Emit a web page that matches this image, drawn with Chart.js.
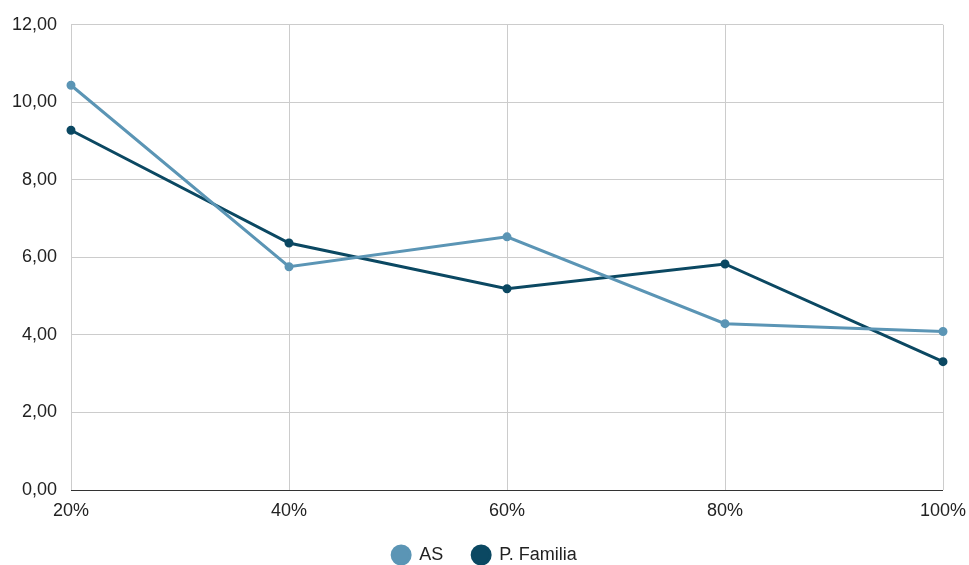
<!DOCTYPE html>
<html>
<head>
<meta charset="utf-8">
<script src="https://cdn.jsdelivr.net/npm/chart.js@4"></script>
<style>
  html, body { margin: 0; padding: 0; background: #fff; }
  #wrap { width: 969px; height: 565px; position: relative; }
</style>
</head>
<body>
<div id="wrap"><canvas id="chart"></canvas></div>
<script>
// Категории по оси X
const categories = ['20%', '40%', '60%', '80%', '100%'];

// Значения серий
const asValues      = [10.44, 5.76, 6.53, 4.29, 4.09];
const familiaValues = [9.28, 6.37, 5.19, 5.83, 3.31];

// Деления оси Y
const yTicks = [0, 2, 4, 6, 8, 10, 12];

const colorAS      = '#5b95b5';
const colorFamilia = '#0b4862';
const FONT = { family: 'Arial, "Liberation Sans", sans-serif', size: 18 };

const fmt = v => v.toFixed(2).replace('.', ',');

function lineDataset(label, data, color) {
    return {
        label: label,
        data: data,
        borderColor: color,
        backgroundColor: color,
        borderWidth: 3,
        pointRadius: 3,
        pointHoverRadius: 3,
        tension: 0
    };
}

new Chart(document.getElementById('chart'), {
    type: 'line',
    data: {
        labels: categories,
        datasets: [
            lineDataset('AS', asValues, colorAS),
            lineDataset('P. Familia', familiaValues, colorFamilia)
        ]
    },
    options: {
        responsive: true,
        maintainAspectRatio: false,
        animation: false,
        layout: { padding: { top: 23, right: 0, left: 0, bottom: 0 } },
        scales: {
            x: {
                offset: false,
                afterFit: axis => {
                    axis.height = 27;
                    // подпись «100%» может выходить за край области графика
                    axis.paddingRight = 26;
                    axis.paddingLeft = 0;
                },
                grid: { color: '#cccccc', lineWidth: 1, drawTicks: false },
                border: { display: false },
                ticks: { color: '#222', font: FONT, padding: 10, maxRotation: 0 }
            },
            y: {
                min: 0,
                max: 12,
                afterBuildTicks: axis => { axis.ticks = yTicks.map(v => ({ value: v })); },
                afterFit: axis => { axis.width = 71; },
                grid: {
                    color: ctx => ctx.tick && ctx.tick.value === 0 ? '#333333' : '#cccccc',
                    lineWidth: 1,
                    drawTicks: false
                },
                border: { display: false },
                ticks: { color: '#222', font: FONT, padding: 14, callback: v => fmt(v) }
            }
        },
        plugins: {
            legend: {
                position: 'bottom',
                maxHeight: 48,
                labels: {
                    // круглые маркеры: квадрат со скруглением в половину стороны
                    boxWidth: 18,
                    boxHeight: 18,
                    useBorderRadius: true,
                    borderRadius: 9,
                    padding: 29,
                    color: '#222',
                    font: FONT
                }
            },
            tooltip: { enabled: false }
        }
    }
});
</script>
</body>
</html>
